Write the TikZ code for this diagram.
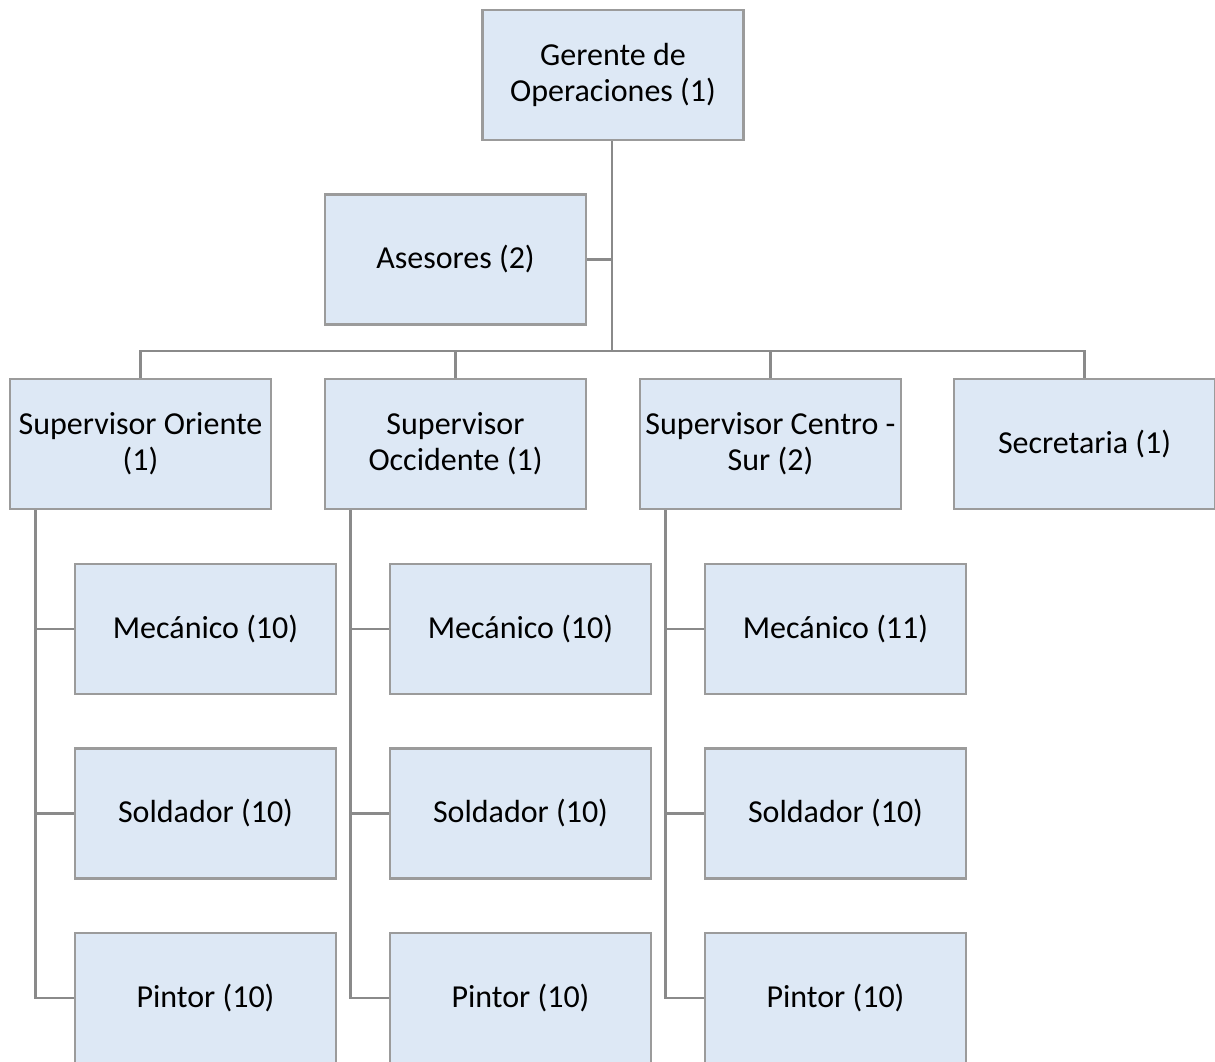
\documentclass[tikz,border=0pt]{standalone}
\usepackage{fontspec}
\setmainfont{Carlito}
\definecolor{boxfill}{RGB}{221,232,245}
\definecolor{boxline}{RGB}{155,155,155}
\definecolor{connline}{RGB}{138,138,138}

\begin{document}
\begin{tikzpicture}[x=1pt, y=-1pt,
  puesto/.style={draw=boxline, line width=2.6pt, fill=boxfill, minimum width=261pt, minimum height=130pt,
    align=center, inner sep=2pt, font=\fontsize{32}{36}\selectfont},
  enlace/.style={draw=connline, line width=2.8pt}]
\clip (0, 0) rectangle (1215, 1061);
\fill[white] (0, 0) rectangle (1215, 1061);

\node[puesto] (ger) at (613, 75) {Gerente de\\Operaciones (1)};
\node[puesto] (ase) at (455.5, 259.5) {Asesores (2)};
\node[puesto] (ori) at (140.5, 444) {Supervisor Oriente\\(1)};
\node[puesto] (occ) at (455.5, 444) {Supervisor\\Occidente (1)};
\node[puesto] (cen) at (770.5, 444) {Supervisor Centro -\\Sur (2)};
\node[puesto] (sec) at (1084.5, 444) {Secretaria (1)};

\node[puesto] (mecO) at (205.5, 629) {Mecánico (10)};
\node[puesto] (solO) at (205.5, 813.5) {Soldador (10)};
\node[puesto] (pinO) at (205.5, 998) {Pintor (10)};
\node[puesto] (mecC) at (520.5, 629) {Mecánico (10)};
\node[puesto] (solC) at (520.5, 813.5) {Soldador (10)};
\node[puesto] (pinC) at (520.5, 998) {Pintor (10)};
\node[puesto] (mecS) at (835.5, 629) {Mecánico (11)};
\node[puesto] (solS) at (835.5, 813.5) {Soldador (10)};
\node[puesto] (pinS) at (835.5, 998) {Pintor (10)};

\coordinate (bar) at (612, 351);
\draw[enlace] (ger.south -| bar) -- (bar);
\draw[enlace] (ase.east) -- (ase.east -| bar);
\draw[enlace] (ori.north) -- (ori.north |- bar) -- (sec.north |- bar) -- (sec.north);
\draw[enlace] (occ.north) -- (occ.north |- bar);
\draw[enlace] (cen.north) -- (cen.north |- bar);

\coordinate (spO) at ([xshift=27pt]ori.south west);
\coordinate (spC) at ([xshift=27pt]occ.south west);
\coordinate (spS) at ([xshift=27pt]cen.south west);
\draw[enlace] (spO) |- (pinO.west);
\draw[enlace] (mecO.west) -- (mecO.west -| spO);
\draw[enlace] (solO.west) -- (solO.west -| spO);
\draw[enlace] (spC) |- (pinC.west);
\draw[enlace] (mecC.west) -- (mecC.west -| spC);
\draw[enlace] (solC.west) -- (solC.west -| spC);
\draw[enlace] (spS) |- (pinS.west);
\draw[enlace] (mecS.west) -- (mecS.west -| spS);
\draw[enlace] (solS.west) -- (solS.west -| spS);
\end{tikzpicture}
\end{document}
